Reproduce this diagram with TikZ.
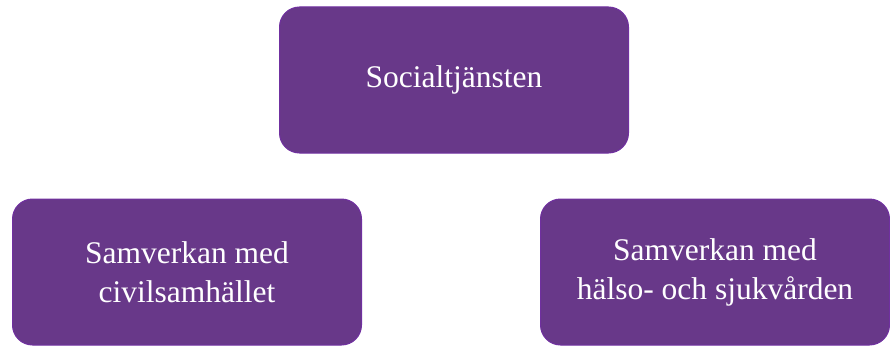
\documentclass[tikz,border=0pt]{standalone}
\usepackage{fontspec}
\setmainfont{Liberation Serif}
\usepackage{tikz}

\definecolor{lila}{RGB}{104,56,137}
\definecolor{lilakant}{RGB}{112,48,160}

\tikzset{
  ruta/.style={draw=lilakant, line width=1pt, fill=lila, rounded corners=20pt,
    minimum width=349pt, minimum height=146pt, inner sep=0pt,
    text=white, align=center, font=\fontsize{31.5}{39}\selectfont}
}

\begin{document}
\begin{tikzpicture}[x=1pt, y=-1pt]
\useasboundingbox (0,0) rectangle (890,345);

% socialtjansten
\node[ruta] (soc) at (454,80) {Socialtj\"ansten};

% samverkan
\node[ruta] (civil) at (187,272) {Samverkan med\\civilsamh\"allet};
\node[ruta] (halso) at (715,272) {Samverkan med\\h\"also- och sjukv\aa rden};

\end{tikzpicture}
\end{document}
